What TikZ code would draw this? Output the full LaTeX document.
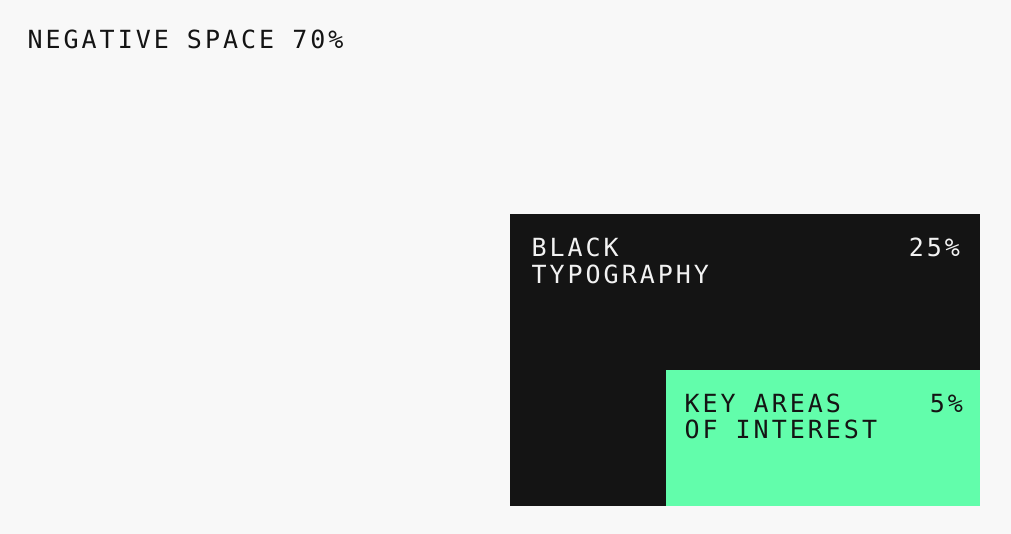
\documentclass[tikz,border=0pt]{standalone}
\usepackage{fontspec}
\newfontfamily\monoface[LetterSpace=12]{DejaVu Sans Mono}
\definecolor{bgcol}{HTML}{F8F8F8}
\definecolor{inkcol}{HTML}{141414}
\definecolor{mintcol}{HTML}{62FDAB}
\definecolor{paper}{HTML}{F2F2F2}
\begin{document}
\begin{tikzpicture}[x=1pt,y=-1pt,
  lbl/.style={inner sep=0pt,outer sep=0pt,font=\monoface\fontsize{25}{29}\selectfont},
  darklbl/.style={lbl,text=inkcol},
  lightlbl/.style={lbl,text=paper}]
\fill[bgcol] (0,0) rectangle (1011,534);
\useasboundingbox (0,0) rectangle (1011,534);
\fill[inkcol] (510,214) rectangle (980,506);
\fill[mintcol] (666,370) rectangle (980,506);
\node[darklbl,anchor=base west] (neg) at (27.5,48.5) {NEGATIVE SPACE 70\%};
\node[lightlbl,anchor=base west] (black1) at (531.5,257) {BLACK};
\node[lightlbl,anchor=base west] (black2) at (531.5,284) {TYPOGRAPHY};
\node[lightlbl,anchor=base east] (pct25) at (960,257) {25\%};
\node[darklbl,anchor=base west] (key1) at (684.5,412) {KEY AREAS};
\node[darklbl,anchor=base west] (key2) at (684.5,438) {OF INTEREST};
\node[darklbl,anchor=base east] (pct5) at (963,412) {5\%};
\end{tikzpicture}
\end{document}
